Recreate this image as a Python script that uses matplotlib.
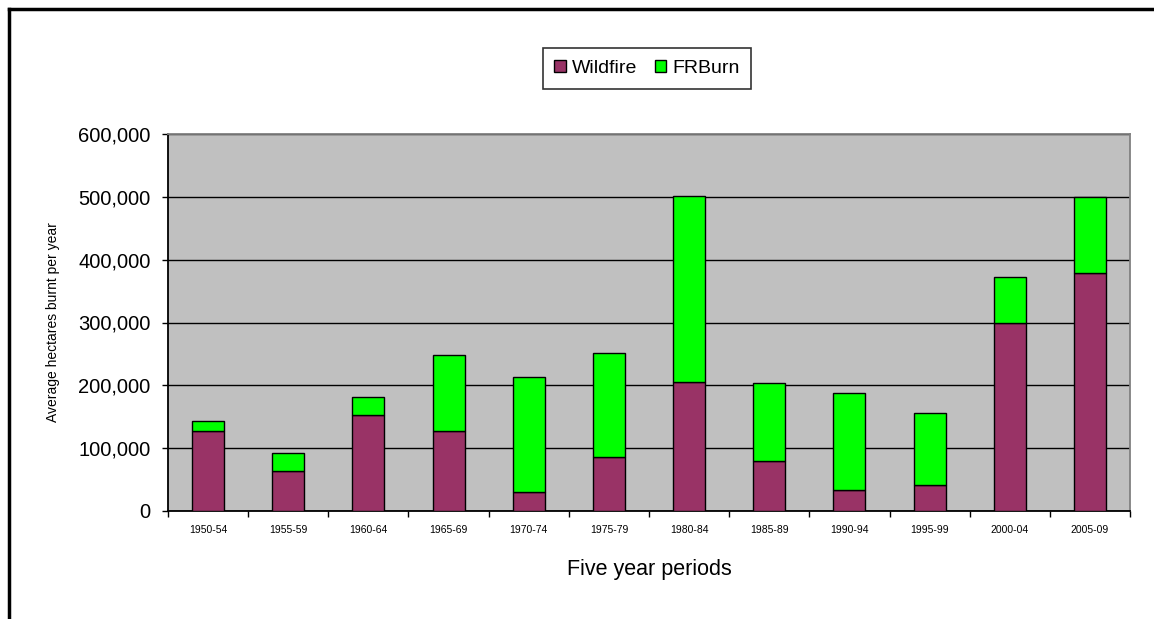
import matplotlib
matplotlib.use("Agg")
import matplotlib.pyplot as plt
from matplotlib.ticker import FuncFormatter, MultipleLocator
from matplotlib.lines import Line2D
import numpy as np

plt.rcParams['font.family'] = ['Liberation Sans', 'DejaVu Sans']

periods = ["1950-54", "1955-59", "1960-64", "1965-69", "1970-74", "1975-79",
           "1980-84", "1985-89", "1990-94", "1995-99", "2000-04", "2005-09"]
wildfire = [127000, 63000, 152000, 127000, 31000, 86000,
            206000, 79000, 34000, 41000, 299000, 378000]
totals = [143000, 92000, 181000, 248000, 213000, 251000,
          502000, 203000, 188000, 156000, 372000, 499000]
frburn = [t - w for t, w in zip(totals, wildfire)]

fig = plt.figure(figsize=(11.54, 6.19), dpi=100)
ax = fig.add_axes([168/1154, 1 - 511/619, (1130-168)/1154, (511-134)/619])
ax.set_facecolor('#C0C0C0')

x = np.arange(len(periods))
ax.bar(x, wildfire, width=0.4, color='#993366', edgecolor='black', linewidth=1.0,
       label='Wildfire', zorder=3)
ax.bar(x, frburn, width=0.4, bottom=wildfire, color='#00FF00', edgecolor='black',
       linewidth=1.0, label='FRBurn', zorder=3)

ax.set_xlim(-0.5, len(periods) - 0.5)
ax.set_ylim(0, 600000)
ax.yaxis.set_major_locator(MultipleLocator(100000))
ax.yaxis.set_major_formatter(FuncFormatter(lambda v, p: f"{int(v):,}"))
ax.grid(axis='y', color='black', linewidth=1.0, zorder=1)
ax.set_axisbelow(True)

ax.set_xticks(x)
ax.set_xticklabels(periods, fontsize=7.5)
ax.set_xticks(np.arange(len(periods) + 1) - 0.5, minor=True)
ax.tick_params(axis='x', which='major', length=0, pad=10)
ax.tick_params(axis='x', which='minor', length=4.5, width=1.0, direction='out')
ax.tick_params(axis='y', length=4.5, width=1.0, direction='out', labelsize=14.5, pad=8)

for s in ['left', 'bottom']:
    ax.spines[s].set_color('black')
    ax.spines[s].set_linewidth(1.3)
for s in ['top', 'right']:
    ax.spines[s].set_color('#808080')
    ax.spines[s].set_linewidth(1.3)

ax.set_xlabel('Five year periods', fontsize=15.5, labelpad=17)
ax.set_ylabel('Average hectares burnt per year', fontsize=10, labelpad=13)

leg = fig.legend(loc='center', bbox_to_anchor=(647/1154, 1 - 68.5/619), ncol=2,
                 fontsize=14, frameon=True, fancybox=False, shadow=False,
                 handlelength=0.6, handleheight=0.6, handletextpad=0.3,
                 columnspacing=0.9, borderpad=0.6, borderaxespad=0, edgecolor='black')
leg.get_frame().set_linewidth(1.2)

# outer chart border (top and left visible)
fig.add_artist(Line2D([9/1154, 9/1154], [0, 1 - 9/619], color='black', linewidth=2.5,
                      transform=fig.transFigure))
fig.add_artist(Line2D([9/1154, 1], [1 - 9/619, 1 - 9/619], color='black', linewidth=2.5,
                      transform=fig.transFigure))

fig.savefig('out.png', dpi=100)
